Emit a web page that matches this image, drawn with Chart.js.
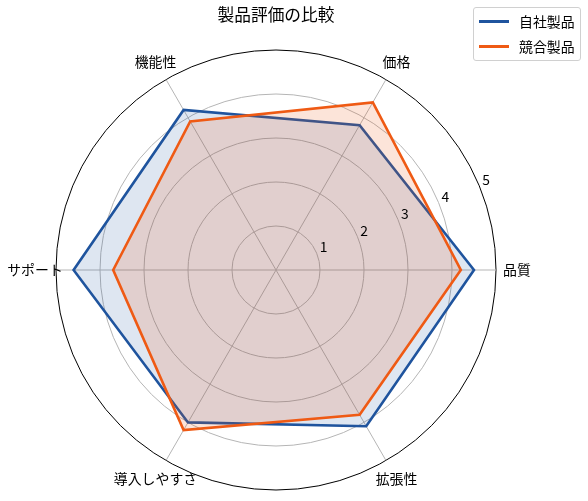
<!DOCTYPE html>
<html>
<head>
<meta charset="utf-8">
<script src="https://cdn.jsdelivr.net/npm/chart.js@4"></script>
<style>
  body { margin: 0; background: #fff; }
  #wrap { position: relative; width: 588px; height: 501px; font-family: "Noto Sans CJK JP", sans-serif; }
  #title { position: absolute; left: 0; width: 552px; top: 2px; text-align: center; font-size: 16.7px; color: #000; }
  #legend { position: absolute; left: 473px; top: 7px; width: 106px; height: 52px; border: 1px solid #d0d0d0; border-radius: 3px; background: rgba(255,255,255,0.8); font-size: 13.9px; }
  .item { position: absolute; left: 5px; height: 20px; line-height: 20px; }
  .item span.line { position: absolute; left: 0; top: 9px; width: 30px; height: 3px; }
  .item span.txt { position: absolute; left: 40px; white-space: nowrap; }
</style>
</head>
<body>
<div id="wrap">
  <canvas id="radarChart" width="588" height="501"></canvas>
  <div id="title">製品評価の比較</div>
  <div id="legend"></div>
</div>
<script>
// categories in the order they appear counter-clockwise from the right
const categories = ['品質', '価格', '機能性', 'サポート', '導入しやすさ', '拡張性'];
const ownScores = [4.5, 3.8, 4.2, 4.6, 4.0, 4.1];
const rivalScores = [4.2, 4.4, 3.9, 3.7, 4.2, 3.8];
const tickValues = [1, 2, 3, 4, 5];
const seriesNames = ['自社製品', '競合製品'];
const seriesColors = ['#1f549e', '#ef5a14'];
const seriesFills = ['rgba(31, 84, 158, 0.15)', 'rgba(239, 90, 20, 0.16)'];

// Chart.js goes clockwise, so flip the order (keep the first one at the right)
const order = [0, 5, 4, 3, 2, 1];
const pick = arr => order.map(i => arr[i]);

// legend
const legend = document.getElementById('legend');
seriesNames.forEach((name, i) => {
  const it = document.createElement('div');
  it.className = 'item';
  it.style.top = (3 + i * 25) + 'px';
  it.innerHTML = '<span class="line" style="background:' + seriesColors[i] + '"></span><span class="txt">' + name + '</span>';
  legend.appendChild(it);
});

// axis labels + radial tick labels (matplotlib style placement)
const textPlugin = {
  id: 'radarText',
  afterDraw(chart) {
    const r = chart.scales.r;
    const ctx = chart.ctx;
    ctx.save();
    ctx.fillStyle = '#000';
    ctx.font = '13.9px "Noto Sans CJK JP"';
    ctx.textAlign = 'center';
    ctx.textBaseline = 'middle';
    chart.data.labels.forEach((lab, i) => {
      const p = r.getPointPosition(i, r.drawingArea + 21);
      ctx.fillText(lab, p.x, p.y);
    });
    const a = -22.5 * Math.PI / 180;
    ctx.textAlign = 'left';
    ctx.textBaseline = 'bottom';
    tickValues.forEach(v => {
      const d = r.getDistanceFromCenterForValue(v);
      ctx.fillText(String(v), r.xCenter + Math.cos(a) * d + 3, r.yCenter + Math.sin(a) * d + 1);
    });
    ctx.restore();
  }
};

const ctx = document.getElementById('radarChart').getContext('2d');
new Chart(ctx, {
  type: 'radar',
  data: {
    labels: pick(categories),
    datasets: [
      {
        label: seriesNames[0],
        data: pick(ownScores),
        borderColor: seriesColors[0],
        backgroundColor: seriesFills[0],
        borderWidth: 2.6,
        pointRadius: 0,
        fill: true,
        order: 1
      },
      {
        label: seriesNames[1],
        data: pick(rivalScores),
        borderColor: seriesColors[1],
        backgroundColor: seriesFills[1],
        borderWidth: 2.6,
        pointRadius: 0,
        fill: true,
        order: 0
      }
    ]
  },
  options: {
    responsive: false,
    animation: false,
    layout: { padding: { left: 56, right: 92, top: 50, bottom: 11 } },
    plugins: { legend: { display: false }, title: { display: false }, tooltip: { enabled: false } },
    scales: {
      r: {
        min: 0,
        max: 5,
        startAngle: 90,
        ticks: { stepSize: 1, display: false },
        pointLabels: { display: false },
        grid: {
          circular: true,
          lineWidth: 1,
          color: c => (c.tick && c.tick.value === 5 ? '#000000' : '#b5b5b5')
        },
        angleLines: { color: '#b5b5b5', lineWidth: 1 }
      }
    }
  },
  plugins: [textPlugin]
});
</script>
</body>
</html>
